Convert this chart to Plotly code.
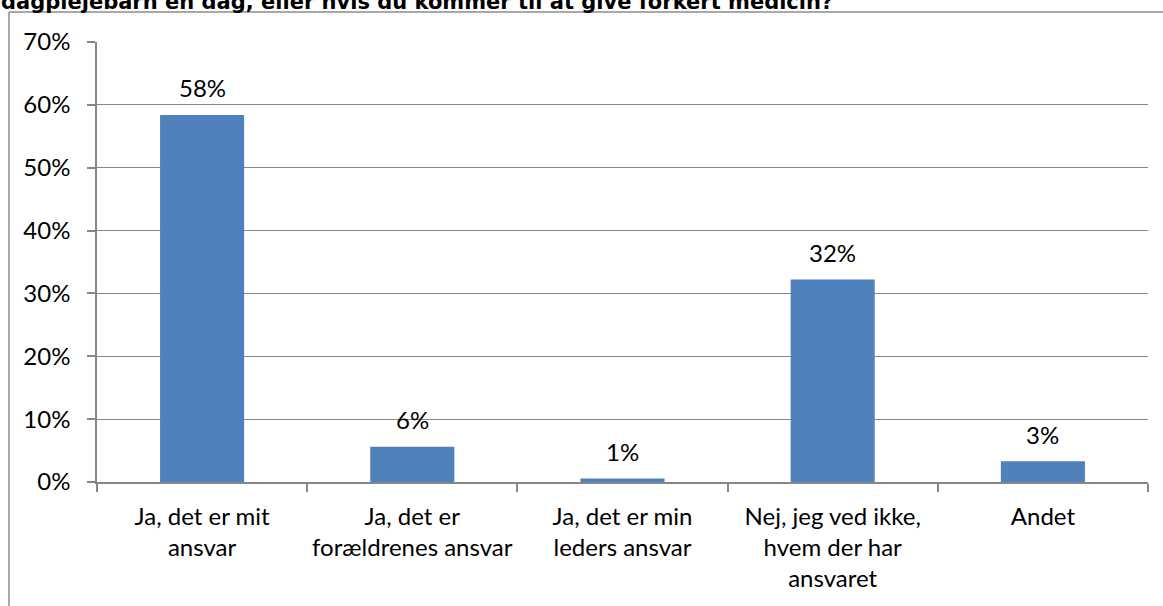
import plotly.graph_objects as go

categories = [
    "Ja, det er mit<br>ansvar",
    "Ja, det er<br>forældrenes ansvar",
    "Ja, det er min<br>leders ansvar",
    "Nej, jeg ved ikke,<br>hvem der har<br>ansvaret",
    "Andet",
]
values = [0.584, 0.056, 0.0055, 0.322, 0.033]
value_labels = ["58%", "6%", "1%", "32%", "3%"]
y_ticks = [0, 0.1, 0.2, 0.3, 0.4, 0.5, 0.6, 0.7]
y_tick_labels = ["0%", "10%", "20%", "30%", "40%", "50%", "60%", "70%"]
title_text = "dagplejebarn en dag, eller hvis du kommer til at give forkert medicin?"

W, H = 1163, 606
L, R, T, B = 97, 15, 42, 124
PW, PH = W - L - R, H - T - B

def px(x):
    return (x - L) / PW

def py(y):
    return (H - B - y) / PH

GRID = "#868686"
FONT = "Lato"

fig = go.Figure()
fig.add_trace(go.Bar(
    x=categories, y=values,
    marker=dict(color="#4F81BD", line=dict(width=0)),
    hoverinfo="skip",
))

annotations = []
for c, v, t in zip(categories, values, value_labels):
    annotations.append(dict(
        x=c, y=v, xref="x", yref="y", text=t, showarrow=False,
        yanchor="middle", yshift=27,
        font=dict(family=FONT, size=24, color="black"),
    ))
annotations.append(dict(
    x=px(-1), y=py(16), xref="paper", yref="paper", text="<b>" + title_text + "</b>",
    showarrow=False, xanchor="left", yanchor="bottom",
    font=dict(family="DejaVu Sans", size=21, color="black"),
))

shapes = [
    dict(type="line", xref="paper", yref="paper", x0=px(9), x1=px(1200), y0=py(12), y1=py(12),
         line=dict(color="#8c8c8c", width=1.5)),
    dict(type="line", xref="paper", yref="paper", x0=px(9), x1=px(9), y0=py(12), y1=py(650),
         line=dict(color="#8c8c8c", width=1.5)),
]

fig.update_layout(
    width=W, height=H,
    margin=dict(l=L, r=R, t=T, b=B, pad=0),
    paper_bgcolor="white", plot_bgcolor="white",
    bargap=0.6, showlegend=False,
    annotations=annotations, shapes=shapes,
    font=dict(family=FONT, size=24, color="black"),
)
fig.update_xaxes(
    type="category", tickson="boundaries", ticks="outside", ticklen=8, tickwidth=1.5,
    tickcolor=GRID, showline=True, linecolor=GRID, linewidth=1.5, automargin=False,
    tickfont=dict(family=FONT, size=24, color="black"), showgrid=False,
    ticklabelstandoff=12,
)
fig.update_yaxes(
    range=[0, 0.7], tickvals=y_ticks, ticktext=y_tick_labels, automargin=False,
    ticks="outside", ticklen=8, tickwidth=1.5, tickcolor=GRID,
    showline=True, linecolor=GRID, linewidth=1.5,
    showgrid=True, gridcolor=GRID, gridwidth=1, zeroline=False,
    tickfont=dict(family=FONT, size=24, color="black"), ticklabelstandoff=12,
)

fig.write_html(
    "out.html",
    config={"displayModeBar": False},
    post_script="document.body.style.margin='0';document.body.style.overflow='hidden';",
)
